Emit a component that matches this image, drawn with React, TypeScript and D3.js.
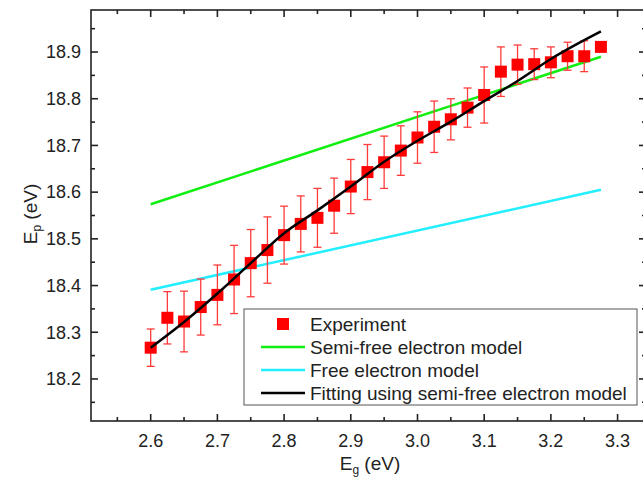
import * as d3 from "d3";

const W = 643;
const H = 479;
const FONT = "'Liberation Sans', Arial, sans-serif";

// band gap energies (eV)
const egValues = [
  2.6, 2.625, 2.65, 2.675, 2.7, 2.725, 2.75, 2.775, 2.8, 2.825, 2.85, 2.875, 2.9, 2.925,
  2.95, 2.975, 3.0, 3.025, 3.05, 3.075, 3.1, 3.125, 3.15, 3.175, 3.2, 3.225, 3.25, 3.275,
];
// measured plasmon energies (eV)
const epValues = [
  18.267, 18.331, 18.323, 18.354, 18.38, 18.413, 18.448, 18.476, 18.508, 18.532, 18.545,
  18.571, 18.612, 18.643, 18.664, 18.689, 18.717, 18.74, 18.756, 18.781, 18.808, 18.858,
  18.873, 18.874, 18.878, 18.891, 18.891, 18.911,
];
// error bar half-heights (eV)
const epErrors = [
  0.04, 0.056, 0.065, 0.06, 0.064, 0.073, 0.072, 0.071, 0.062, 0.06, 0.063, 0.059, 0.058,
  0.059, 0.056, 0.053, 0.055, 0.055, 0.044, 0.042, 0.06, 0.053, 0.042, 0.033, 0.033, 0.03,
  0.033, 0,
];

// model lines (end points)
const semiFreeX = [2.6, 3.275];
const semiFreeY = [18.574, 18.89];
const freeX = [2.6, 3.275];
const freeY = [18.391, 18.605];

// fitted curve
const fitX = [2.6, 2.65, 2.7, 2.75, 2.8, 2.85, 2.9, 2.95, 3.0, 3.05, 3.1, 3.15, 3.2, 3.275];
const fitY = [
  18.267, 18.322, 18.383, 18.448, 18.512, 18.561, 18.612, 18.665, 18.71, 18.751, 18.795,
  18.838, 18.885, 18.944,
];

const xMajor = [2.6, 2.7, 2.8, 2.9, 3.0, 3.1, 3.2, 3.3];
const xMinor = [2.55, 2.65, 2.75, 2.85, 2.95, 3.05, 3.15, 3.25];
const yMajor = [18.2, 18.3, 18.4, 18.5, 18.6, 18.7, 18.8, 18.9];
const yMinor = [18.15, 18.25, 18.35, 18.45, 18.55, 18.65, 18.75, 18.85, 18.95];

const legendLabels = [
  "Experiment",
  "Semi-free electron model",
  "Free electron model",
  "Fitting using semi-free electron model",
];

const PLOT = { left: 91, right: 646, top: 10, bottom: 421 };

export default function App() {
  const x = d3.scaleLinear().domain([2.5105, 3.3426]).range([PLOT.left, PLOT.right]);
  const y = d3.scaleLinear().domain([18.11, 18.99]).range([PLOT.bottom, PLOT.top]);

  const straight = d3
    .line<[number, number]>()
    .x((d) => x(d[0]))
    .y((d) => y(d[1]));
  const smooth = straight.curve(d3.curveMonotoneX);

  const semiFree = semiFreeX.map((v, i) => [v, semiFreeY[i]] as [number, number]);
  const free = freeX.map((v, i) => [v, freeY[i]] as [number, number]);
  const fit = fitX.map((v, i) => [v, fitY[i]] as [number, number]);

  const axisColor = "#222";
  const lgX = 244;
  const lgY = 309;
  const rowY = [324, 347, 370, 393];

  return (
    <svg
      width={W}
      height={H}
      style={{ position: "absolute", left: 0, top: 0, background: "#fff" }}
      fontFamily={FONT}
    >
      <defs>
        <clipPath id="plot">
          <rect x={PLOT.left} y={PLOT.top} width={PLOT.right - PLOT.left} height={PLOT.bottom - PLOT.top} />
        </clipPath>
      </defs>

      {/* model lines */}
      <g clipPath="url(#plot)">
        <path d={straight(semiFree) ?? ""} stroke="#11ee11" strokeWidth={2.5} fill="none" />
        <path d={straight(free) ?? ""} stroke="#22eeff" strokeWidth={2.5} fill="none" />
      </g>

      {/* error bars */}
      <g stroke="#ff3b3b" strokeWidth={1.3}>
        {egValues.map((v, i) =>
          epErrors[i] > 0 ? (
            <g key={i}>
              <line x1={x(v)} x2={x(v)} y1={y(epValues[i] - epErrors[i])} y2={y(epValues[i] + epErrors[i])} />
              <line x1={x(v) - 4} x2={x(v) + 4} y1={y(epValues[i] + epErrors[i])} y2={y(epValues[i] + epErrors[i])} />
              <line x1={x(v) - 4} x2={x(v) + 4} y1={y(epValues[i] - epErrors[i])} y2={y(epValues[i] - epErrors[i])} />
            </g>
          ) : null
        )}
      </g>

      {/* experiment squares */}
      {egValues.map((v, i) => (
        <rect key={i} x={x(v) - 6} y={y(epValues[i]) - 6} width={12} height={12} fill="#ff0000" />
      ))}

      {/* fit */}
      <path d={smooth(fit) ?? ""} stroke="#000" strokeWidth={2.5} fill="none" />

      {/* frame and ticks */}
      <g stroke={axisColor} strokeWidth={1.6} fill="none">
        <rect x={PLOT.left} y={PLOT.top} width={PLOT.right - PLOT.left} height={PLOT.bottom - PLOT.top} />
        {xMajor.map((t) => (
          <g key={t}>
            <line x1={x(t)} x2={x(t)} y1={PLOT.bottom} y2={PLOT.bottom - 7} />
            <line x1={x(t)} x2={x(t)} y1={PLOT.top} y2={PLOT.top + 7} />
          </g>
        ))}
        {xMinor.map((t) => (
          <g key={t}>
            <line x1={x(t)} x2={x(t)} y1={PLOT.bottom} y2={PLOT.bottom - 4} />
            <line x1={x(t)} x2={x(t)} y1={PLOT.top} y2={PLOT.top + 4} />
          </g>
        ))}
        {yMajor.map((t) => (
          <g key={t}>
            <line x1={PLOT.left} x2={PLOT.left + 7} y1={y(t)} y2={y(t)} />
            <line x1={PLOT.right} x2={PLOT.right - 7} y1={y(t)} y2={y(t)} />
          </g>
        ))}
        {yMinor.map((t) => (
          <g key={t}>
            <line x1={PLOT.left} x2={PLOT.left + 4} y1={y(t)} y2={y(t)} />
            <line x1={PLOT.right} x2={PLOT.right - 4} y1={y(t)} y2={y(t)} />
          </g>
        ))}
      </g>

      {/* tick labels */}
      <g fontSize={18} fill="#222">
        {xMajor.map((t) => (
          <text key={t} x={x(t)} y={447} textAnchor="middle">
            {t.toFixed(1)}
          </text>
        ))}
        {yMajor.map((t) => (
          <text key={t} x={81} y={y(t)} dy="0.35em" textAnchor="end">
            {t.toFixed(1)}
          </text>
        ))}
      </g>

      {/* axis titles */}
      <text x={370} y={470} textAnchor="middle" fontSize={19} fill="#222">
        E<tspan fontSize={12} dy={4}>g</tspan>
        <tspan dy={-4}> (eV)</tspan>
      </text>
      <text transform="translate(37,214) rotate(-90)" textAnchor="middle" fontSize={19} fill="#222">
        E<tspan fontSize={12} dy={4}>p</tspan>
        <tspan dy={-4}> (eV)</tspan>
      </text>

      {/* legend */}
      <g>
        <rect x={lgX} y={lgY} width={393} height={96} fill="#fff" stroke="#555" strokeWidth={1} />
        <rect x={277} y={rowY[0] - 6} width={12} height={12} fill="#ff0000" />
        <line x1={261} x2={305} y1={rowY[1]} y2={rowY[1]} stroke="#11ee11" strokeWidth={2.5} />
        <line x1={261} x2={305} y1={rowY[2]} y2={rowY[2]} stroke="#22eeff" strokeWidth={2.5} />
        <line x1={261} x2={305} y1={rowY[3]} y2={rowY[3]} stroke="#000" strokeWidth={2.5} />
        {legendLabels.map((l, i) => (
          <text key={l} x={310} y={rowY[i]} dy="0.35em" fontSize={19} fill="#222">
            {l}
          </text>
        ))}
      </g>
    </svg>
  );
}
